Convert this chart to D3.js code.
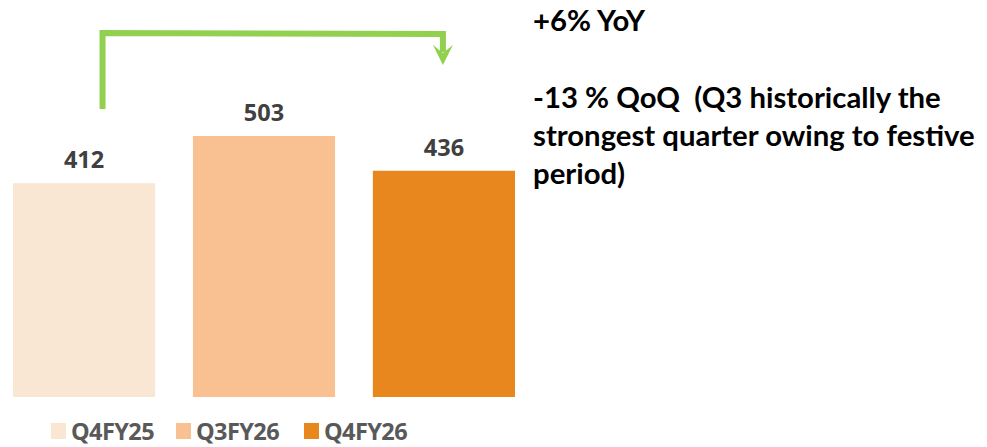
<!DOCTYPE html>
<html>
<head>
<meta charset="utf-8">
<script src="https://cdn.jsdelivr.net/npm/d3@7"></script>
<style>
  body { margin: 0; background: #fff; }
</style>
</head>
<body>
<svg id="canvas" width="987" height="447"></svg>
<script>
let categories = ["Q4FY25", "Q3FY26", "Q4FY26"];
let values = [412, 503, 436];
let colors = ["#F9E6D3", "#F9C091", "#E8871E"];
let notes = [
    "+6% YoY",
    "",
    "-13 % QoQ  (Q3 historically the",
    "strongest quarter owing to festive",
    "period)"
];

let canvas = d3.select("#canvas");

let xScale = d3.scaleBand()
    .domain(categories)
    .range([13, 515])
    .paddingInner(0.21)
    .paddingOuter(0);

let yScale = d3.scaleLinear()
    .domain([0, 503])
    .range([397, 136]);

// bars
canvas.selectAll('rect.bar')
    .data(values)
    .enter()
    .append('rect')
    .attr('class', 'bar')
    .attr('x', (d, i) => xScale(categories[i]))
    .attr('y', d => yScale(d))
    .attr('width', xScale.bandwidth())
    .attr('height', d => yScale(0) - yScale(d))
    .attr('fill', (d, i) => colors[i]);

// value labels
canvas.selectAll('text.val')
    .data(values)
    .enter()
    .append('text')
    .attr('class', 'val')
    .attr('x', (d, i) => xScale(categories[i]) + xScale.bandwidth() / 2)
    .attr('y', d => yScale(d) - 15)
    .attr('text-anchor', 'middle')
    .style('font-family', "'Open Sans', sans-serif")
    .style('font-weight', 'bold')
    .style('font-size', '23.5px')
    .style('fill', '#404040')
    .text(d => d);

// yoy arrow from first bar to last bar
let x0 = xScale(categories[0]) + xScale.bandwidth() * 0.63;
let x1 = xScale(categories[2]) + xScale.bandwidth() / 2 - 1;
let yTop = 33;
canvas.append('path')
    .attr('d', `M${x0},109 L${x0},${yTop} L${x1},${yTop + 1} L${x1},52`)
    .attr('fill', 'none')
    .attr('stroke', '#92D050')
    .attr('stroke-width', 6);
canvas.append('path')
    .attr('d', `M${x1 - 10},45 L${x1},65 L${x1 + 10},45 L${x1},53 Z`)
    .attr('fill', '#92D050');

// legend
let legendX = [51, 176, 304];
let legend = canvas.selectAll('g.legend')
    .data(categories)
    .enter()
    .append('g')
    .attr('class', 'legend')
    .attr('transform', (d, i) => `translate(${legendX[i]}, 423)`);
legend.append('rect')
    .attr('width', 15)
    .attr('height', 16)
    .attr('fill', (d, i) => colors[i]);
legend.append('text')
    .attr('x', 20)
    .attr('y', 17)
    .style('font-family', "'Open Sans', sans-serif")
    .style('font-weight', 'bold')
    .style('font-size', '23.5px')
    .style('letter-spacing', '-0.6px')
    .style('fill', '#595959')
    .text(d => d);

// commentary on the right
canvas.selectAll('text.note')
    .data(notes)
    .enter()
    .append('text')
    .attr('class', 'note')
    .attr('x', 533)
    .attr('y', (d, i) => 31 + i * 38.3)
    .style('font-family', "Lato, sans-serif")
    .style('font-weight', 'bold')
    .style('font-size', '29.3px')
    .style('white-space', 'pre')
    .style('fill', '#000')
    .text(d => d);
</script>
</body>
</html>
